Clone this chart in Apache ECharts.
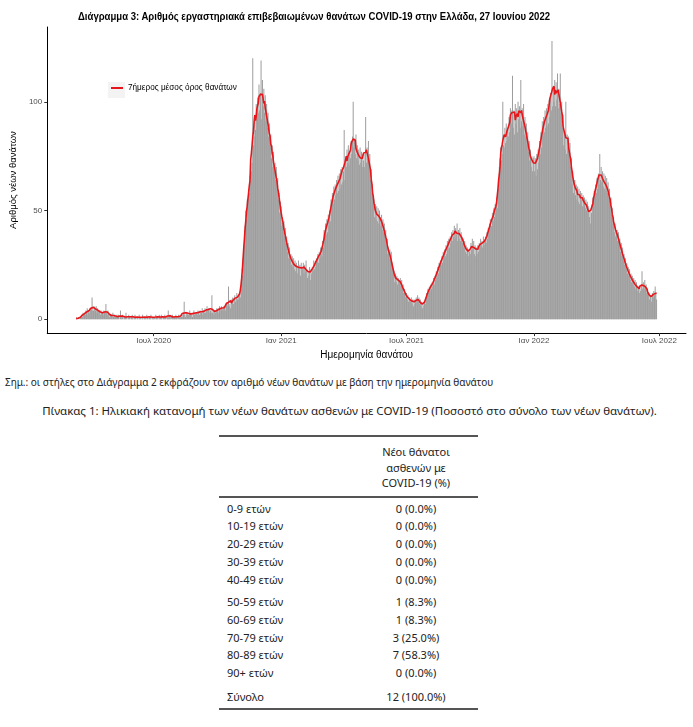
<!DOCTYPE html>
<html><head><meta charset="utf-8">
<script src="https://cdn.jsdelivr.net/npm/echarts@6/dist/echarts.min.js"></script>
<style>
html,body{margin:0;padding:0;background:#fff;}
#wrap{position:relative;width:693px;height:727px;overflow:hidden;background:#fff;}
#chart{position:absolute;left:0;top:0;width:693px;height:365px;}
.t{position:absolute;white-space:nowrap;font-family:'Noto Sans','Open Sans',sans-serif;color:#222;line-height:16px;}
.rule{position:absolute;height:2px;background:#555;}
#title{position:absolute;left:78px;top:10px;white-space:nowrap;font-family:'Liberation Sans',Arial,sans-serif;font-weight:bold;font-size:11px;line-height:13px;color:#000;transform-origin:0 0;}
</style></head><body><div id="wrap"><div id="chart"></div><div id="title"></div></div>
<script>
// ---------------- DATA ----------------
const chartTitle = 'Διάγραμμα 3: Αριθμός εργαστηριακά επιβεβαιωμένων θανάτων COVID-19 στην Ελλάδα, 27 Ιουνίου 2022';
const yAxisTitle = 'Αριθμός νέων θανάτων';
const xAxisTitle = 'Ημερομηνία θανάτου';
const lineName = '7ήμερος μέσος όρος θανάτων';
const barName = 'Νέοι θάνατοι';
const xTickDates = ['2020-07-01','2021-01-01','2021-07-01','2022-01-01','2022-07-01'];
const xTickLabels = ['Ιουλ 2020','Ιαν 2021','Ιουλ 2021','Ιαν 2022','Ιουλ 2022'];
const yTickValues = [0, 50, 100];

// daily deaths, one array per month (first day given in monthStarts)
const d2020_03 = [0,1,0,0,1,0,1, 1,2,1,3,2,3,2, 4,3,5,2,4,3,5];
const d2020_04 = [4,5,10,4,4,6,5,4,6,3, 5,4,3,4,2,4,3,3,2,4, 3,3,7,3,2,4,3,1,2,2];
const d2020_05 = [2,1,3,1,2,2,1,1,2,1, 2,1,0,4,1,1,2,0,1,1, 1,3,1,0,1,2,1,0,1,1,2];
const d2020_06 = [1,0,1,2,1,0,1,1,0,2, 1,1,0,1,2,0,1,1,1,0, 2,1,0,1,1,1,2,0,1,1];
const d2020_07 = [1,1,0,2,1,1,1,0,2,1, 1,2,1,0,1,1,2,1,0,1, 1,4,1,2,1,0,1,2,1,1,1];
const d2020_08 = [1,2,1,1,0,2,1,1,2,1, 1,2,3,8,2,1,3,2,3,2, 2,4,3,2,3,1,3,4,2,3,3];
const d2020_09 = [3,2,4,3,2,4,3,3,5,2, 4,3,5,3,4,6,4,5,3,5, 4,3,11,3,4,2,4,3,4,5];
const d2020_10 = [4,5,3,6,5,4,6,5,4,6, 5,6,4,7,6,8,15,6,7,5, 9,8,10,7,9,11,8,10,12,9,11];
const d2020_11 = [9,12,10,14,17,20,28,31,41,43, 50,46,55,52,60,58,66,70,68,72, 120,80,84,94,87,99,93,102,95,108];
const d2020_12 = [96,104,119,92,110,98,106,95,103,91, 99,88,95,84,90,81,85,74,80,70, 77,68,72,64,70,60,65,55,58,49,54];
const d2021_01 = [52,43,47,40,45,38,42,35,38,31, 35,28,33,27,30,25,29,24,28,23, 27,22,26,24,21,27,23,25,20,26,24];
const d2021_02 = [23,26,21,25,22,27,23, 19,22,20,24,18,23,21, 24,22,27,23,26,24,28, 27,30,26,31,28,33,30];
const d2021_03 = [29,36,33,41,37,44,39, 46,40,48,43,50,45,55, 51,58,53,61,55,62,57, 64,58,66,59,67,60,69,62,70,63];
const d2021_04 = [68,87,64,74,70,78,72, 80,71,77,74,82,76,84,100,79,83,76,85,74, 80,73,78,71,79,72,77,70,76,73];
const d2021_05 = [70,76,93,72,79,74,82, 70,76,64,69,58,62,52, 55,47,53,46,52,45,51, 44,50,47,43,48,41,46,40,44,38];
const d2021_06 = [41,34,37,30,33,28,32, 27,31,26,24,21,22,17, 21,17,20,16,19,18,17, 19,15,18,14,16,12,14,10,12];
const d2021_07 = [12,9,11,8,10,9,8, 10,7,9,6,9,7,8, 10,8,11,8,10,7,9, 6,8,5,7,6,8,7,10,12,11];
const d2021_08 = [14,12,15,13,16,14,17, 15,19,16,20,18,22,19, 24,21,26,23,27,25,29, 26,31,28,32,29,34,30,36,32,37];
const d2021_09 = [33,38,35,40,36,41,38, 43,37,42,39,44,36,41, 37,42,36,40,38,35,37, 33,36,31,34,30,33,29,32,31];
const d2021_10 = [30,35,32,37,33,36,30, 34,29,33,30,34,31,35, 33,37,34,36,33,38,34, 36,38,35,40,37,42,39,44,46,43];
const d2021_11 = [43,49,45,51,47,53,49, 56,51,57,62,70,74,79, 73,76,100,80,79,88,81, 90,82,87,84,93,86,97,90,96];
const d2021_12 = [112,88,96,85,99,90,97, 86,100,92,98,88,110,91, 97,89,99,85,93,84,90, 80,86,77,82,73,78,70,75,68,74];
const d2022_01 = [75,68,74,66,76,69,78, 72,82,76,86,79,91,84, 93,86,96,88,97,89,99, 90,101,93,104,96,128,98,107,100,110];
const d2022_02 = [98,109,101,113,97,106,99, 113,95,100,88,94,80,86, 78,100,76,85,79,84,77, 81,70,74,62,68,58,64];
const d2022_03 = [64,57,62,55,61,54,60, 53,59,55,58,52,57,54, 56,51,55,50,54,49,52, 47,50,44,49,53,56,54,59,57,62];
const d2022_04 = [58,65,60,67,62,76,64, 70,63,68,61,67,60,66, 59,65,58,63,56,60,52, 56,48,51,44,47,40,44,38,41];
const d2022_05 = [41,36,40,34,37,31,35, 29,33,27,30,25,28,23, 26,21,24,20,23,18,21, 17,20,16,19,15,18,14,17,13,15];
const d2022_06 = [15,12,14,13,16,22,14, 17,14,18,15,16,12,14, 11,12,9,11,10,8,12, 10,13,11,15,12,9];

const monthStarts = [
  ['2020-03-11', d2020_03], ['2020-04-01', d2020_04], ['2020-05-01', d2020_05], ['2020-06-01', d2020_06],
  ['2020-07-01', d2020_07], ['2020-08-01', d2020_08], ['2020-09-01', d2020_09], ['2020-10-01', d2020_10],
  ['2020-11-01', d2020_11], ['2020-12-01', d2020_12], ['2021-01-01', d2021_01], ['2021-02-01', d2021_02],
  ['2021-03-01', d2021_03], ['2021-04-01', d2021_04], ['2021-05-01', d2021_05], ['2021-06-01', d2021_06],
  ['2021-07-01', d2021_07], ['2021-08-01', d2021_08], ['2021-09-01', d2021_09], ['2021-10-01', d2021_10],
  ['2021-11-01', d2021_11], ['2021-12-01', d2021_12], ['2022-01-01', d2022_01], ['2022-02-01', d2022_02],
  ['2022-03-01', d2022_03], ['2022-04-01', d2022_04], ['2022-05-01', d2022_05], ['2022-06-01', d2022_06]
];

// table
const noteText = 'Σημ.: οι στήλες στο Διάγραμμα 2 εκφράζουν τον αριθμό νέων θανάτων με βάση την ημερομηνία θανάτου';
const tableCaption = 'Πίνακας 1: Ηλικιακή κατανομή των νέων θανάτων ασθενών με COVID-19 (Ποσοστό στο σύνολο των νέων θανάτων).';
const tableHeader = ['Νέοι θάνατοι', 'ασθενών με', 'COVID-19 (%)'];
const ageGroups = ['0-9 ετών','10-19 ετών','20-29 ετών','30-39 ετών','40-49 ετών','50-59 ετών','60-69 ετών','70-79 ετών','80-89 ετών','90+ ετών'];
const newDeathsByAge = [0,0,0,0,0,1,1,3,7,0];
const totalLabel = 'Σύνολο';

// ---------------- BUILD ----------------
const DAY = 86400000;
const ts = s => { const p = s.split('-').map(Number); return Date.UTC(p[0], p[1]-1, p[2]); };
const daily = [];
monthStarts.forEach(([start, arr]) => { const t0 = ts(start); arr.forEach((v, i) => daily.push([t0 + i*DAY, v])); });
const avg7 = daily.map((d, i) => {
  let s = 0, n = 0;
  for (let k = i-3; k <= i+3; k++) if (k >= 0 && k < daily.length) { s += daily[k][1]; n++; }
  return [d[0], +(s/n).toFixed(2)];
});
const xTicks = xTickDates.map(ts);

// title (real DOM text, horizontally condensed to match the narrow font of the original)
const titleEl = document.getElementById('title');
titleEl.textContent = chartTitle;
titleEl.style.transform = 'scaleX(' + (472 / titleEl.getBoundingClientRect().width).toFixed(4) + ')';

const FONT = "'Liberation Sans',Arial,sans-serif";
const chart = echarts.init(document.getElementById('chart'));
chart.setOption({
  animation: false,
  backgroundColor: '#fff',
  legend: { left: 111, top: 84, padding: 0, itemWidth: 12, itemHeight: 2, icon: 'rect',
    data: [lineName], textStyle: { fontFamily: FONT, fontSize: 8.2, color: '#000' } },
  graphic: [{ type: 'rect', left: 108, top: 82, z: -1, shape: { width: 17, height: 16 }, style: { fill: '#f3f3f3' } }],
  grid: { left: 44, right: 7, top: 27, bottom: 30 },
  xAxis: {
    type: 'value', min: Date.UTC(2020,0,29,7), max: Date.UTC(2022,7,8,12),
    name: xAxisTitle, nameLocation: 'middle', nameGap: 15,
    nameTextStyle: { fontFamily: FONT, fontSize: 10, color: '#000' },
    axisLine: { show: true, onZero: false, lineStyle: { color: '#000', width: 1 } },
    axisTick: { show: true, customValues: xTicks, length: 3, lineStyle: { color: '#333' } },
    axisLabel: { customValues: xTicks, margin: 4, fontFamily: FONT, fontSize: 8, color: '#4d4d4d',
      formatter: v => { const i = xTicks.indexOf(v); return i >= 0 ? xTickLabels[i] : ''; } },
    splitLine: { show: false }
  },
  yAxis: {
    type: 'value', min: -6.4, max: 134.4,
    name: yAxisTitle, nameLocation: 'middle', nameGap: 23, nameRotate: 90,
    nameTextStyle: { fontFamily: FONT, fontSize: 9.5, color: '#000' },
    axisLine: { show: true, lineStyle: { color: '#000', width: 1 } },
    axisTick: { show: true, customValues: yTickValues, length: 3, lineStyle: { color: '#333' } },
    axisLabel: { customValues: yTickValues, margin: 5, fontFamily: FONT, fontSize: 8, color: '#4d4d4d' },
    splitLine: { show: false }
  },
  series: [
    { name: barName, type: 'bar', data: daily, barWidth: 1, itemStyle: { color: '#9d9d9d' }, z: 1 },
    { name: lineName, type: 'line', data: avg7, showSymbol: false, symbol: 'none',
      lineStyle: { color: '#e8161b', width: 1.6 }, itemStyle: { color: '#e8161b' }, z: 3 }
  ]
});

// ---------------- TEXT / TABLE ----------------
const wrap = document.getElementById('wrap');
function addText(txt, left, centerY, size, extra) {
  const d = document.createElement('div');
  d.className = 't'; d.textContent = txt;
  d.style.left = left + 'px'; d.style.top = (centerY - 8) + 'px'; d.style.fontSize = size + 'px';
  if (extra) Object.assign(d.style, extra);
  wrap.appendChild(d); return d;
}
function addRule(y) {
  const r = document.createElement('div'); r.className = 'rule';
  r.style.left = '219px'; r.style.width = '259px'; r.style.top = y + 'px'; wrap.appendChild(r);
}
addText(noteText, 5, 382, 10, { color: '#222' });
addText(tableCaption, 0, 411, 11.5, { width: '699px', textAlign: 'center' });
addRule(435);
const headerY = [452, 467.5, 483];
tableHeader.forEach((h, i) => addText(h, 346, headerY[i], 11, { width: '140px', textAlign: 'center' }));
addRule(496);
const rowY = [508.5, 526.3, 544.1, 561.9, 579.7, 602, 619.8, 637.6, 655.4, 673.2];
const total = newDeathsByAge.reduce((a, b) => a + b, 0);
ageGroups.forEach((g, i) => {
  addText(g, 227, rowY[i], 11);
  addText(newDeathsByAge[i] + ' (' + (newDeathsByAge[i] / total * 100).toFixed(1) + '%)', 346, rowY[i], 11, { width: '140px', textAlign: 'center' });
});
addText(totalLabel, 227, 697, 11);
addText(total + ' (100.0%)', 346, 697, 11, { width: '140px', textAlign: 'center' });
addRule(708);
</script></body></html>
